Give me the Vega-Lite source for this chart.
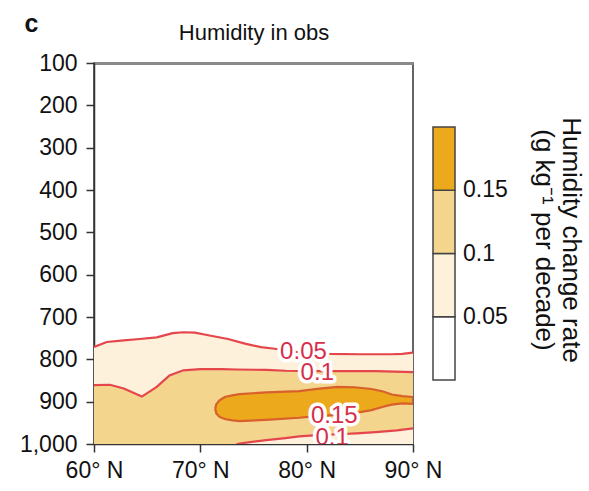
{
  "$schema": "https://vega.github.io/schema/vega-lite/v6.json",
  "width": 319,
  "height": 381,
  "padding": {"left": 19, "top": 12, "right": 5, "bottom": 5},
  "background": "white",
  "title": {
    "text": "c",
    "anchor": "start",
    "frame": "bounds",
    "fontSize": 25,
    "fontWeight": "bold",
    "color": "#111111",
    "offset": -16,
    "dx": 5
  },
  "datasets": {
    "cream": [
      {"lat": 60, "top": 771, "bottom": 1000, "level": 0.05},
      {"lat": 61.2, "top": 759, "bottom": 1000, "level": 0.05},
      {"lat": 62.8, "top": 755, "bottom": 1000, "level": 0.05},
      {"lat": 64.3, "top": 752, "bottom": 1000, "level": 0.05},
      {"lat": 65.9, "top": 748, "bottom": 1000, "level": 0.05},
      {"lat": 67.4, "top": 738, "bottom": 1000, "level": 0.05},
      {"lat": 68.4, "top": 736, "bottom": 1000, "level": 0.05},
      {"lat": 69.5, "top": 737, "bottom": 1000, "level": 0.05},
      {"lat": 70.5, "top": 742, "bottom": 1000, "level": 0.05},
      {"lat": 72.6, "top": 752, "bottom": 1000, "level": 0.05},
      {"lat": 74.2, "top": 763, "bottom": 1000, "level": 0.05},
      {"lat": 75.7, "top": 771, "bottom": 1000, "level": 0.05},
      {"lat": 77, "top": 775, "bottom": 1000, "level": 0.05},
      {"lat": 78.5, "top": 781, "bottom": 1000, "level": 0.05},
      {"lat": 80, "top": 785, "bottom": 1000, "level": 0.05},
      {"lat": 82, "top": 787, "bottom": 1000, "level": 0.05},
      {"lat": 85, "top": 788, "bottom": 1000, "level": 0.05},
      {"lat": 88, "top": 788, "bottom": 1000, "level": 0.05},
      {"lat": 89, "top": 787, "bottom": 1000, "level": 0.05},
      {"lat": 90, "top": 784, "bottom": 1000, "level": 0.05}
    ],
    "tan": [
      {"lat": 60, "top": 861, "bottom": 1000, "level": 0.1},
      {"lat": 61.5, "top": 860, "bottom": 1000, "level": 0.1},
      {"lat": 62.8, "top": 869, "bottom": 1000, "level": 0.1},
      {"lat": 64.5, "top": 888, "bottom": 1000, "level": 0.1},
      {"lat": 65.9, "top": 865, "bottom": 1000, "level": 0.1},
      {"lat": 67.1, "top": 838, "bottom": 1000, "level": 0.1},
      {"lat": 68.4, "top": 826, "bottom": 1000, "level": 0.1},
      {"lat": 70, "top": 823, "bottom": 1000, "level": 0.1},
      {"lat": 72, "top": 823, "bottom": 1000, "level": 0.1},
      {"lat": 73.4, "top": 824, "bottom": 1000, "level": 0.1},
      {"lat": 74.5, "top": 824, "bottom": 996, "level": 0.1},
      {"lat": 76.2, "top": 825, "bottom": 991, "level": 0.1},
      {"lat": 78, "top": 827, "bottom": 986, "level": 0.1},
      {"lat": 79.3, "top": 828, "bottom": 982, "level": 0.1},
      {"lat": 81, "top": 828, "bottom": 979, "level": 0.1},
      {"lat": 82.9, "top": 828, "bottom": 977, "level": 0.1},
      {"lat": 84.7, "top": 828, "bottom": 975, "level": 0.1},
      {"lat": 86.5, "top": 828, "bottom": 972, "level": 0.1},
      {"lat": 88.5, "top": 828, "bottom": 968, "level": 0.1},
      {"lat": 90, "top": 830, "bottom": 963, "level": 0.1}
    ],
    "orange": [
      {"lat": 71.4, "top": 916, "bottom": 918, "level": 0.15},
      {"lat": 71.5, "top": 906, "bottom": 928, "level": 0.15},
      {"lat": 71.8, "top": 897, "bottom": 936, "level": 0.15},
      {"lat": 72.3, "top": 889, "bottom": 941, "level": 0.15},
      {"lat": 73, "top": 885, "bottom": 944, "level": 0.15},
      {"lat": 73.7, "top": 882, "bottom": 946, "level": 0.15},
      {"lat": 76.2, "top": 878, "bottom": 943, "level": 0.15},
      {"lat": 79.3, "top": 875, "bottom": 938, "level": 0.15},
      {"lat": 81, "top": 870, "bottom": 934, "level": 0.15},
      {"lat": 82.9, "top": 865, "bottom": 931, "level": 0.15},
      {"lat": 84.5, "top": 866, "bottom": 927, "level": 0.15},
      {"lat": 86.1, "top": 870, "bottom": 920, "level": 0.15},
      {"lat": 87.2, "top": 876, "bottom": 912, "level": 0.15},
      {"lat": 88, "top": 883, "bottom": 907, "level": 0.15},
      {"lat": 89, "top": 887, "bottom": 904, "level": 0.15},
      {"lat": 90, "top": 889, "bottom": 905, "level": 0.15}
    ],
    "contours": [
      {"c": "c05", "i": 1, "lat": 60, "p": 771},
      {"c": "c05", "i": 2, "lat": 61.2, "p": 759},
      {"c": "c05", "i": 3, "lat": 62.8, "p": 755},
      {"c": "c05", "i": 4, "lat": 64.3, "p": 752},
      {"c": "c05", "i": 5, "lat": 65.9, "p": 748},
      {"c": "c05", "i": 6, "lat": 67.4, "p": 738},
      {"c": "c05", "i": 7, "lat": 68.4, "p": 736},
      {"c": "c05", "i": 8, "lat": 69.5, "p": 737},
      {"c": "c05", "i": 9, "lat": 70.5, "p": 742},
      {"c": "c05", "i": 10, "lat": 72.6, "p": 752},
      {"c": "c05", "i": 11, "lat": 74.2, "p": 763},
      {"c": "c05", "i": 12, "lat": 75.7, "p": 771},
      {"c": "c05", "i": 13, "lat": 77, "p": 775},
      {"c": "c05", "i": 14, "lat": 78.5, "p": 781},
      {"c": "c05", "i": 15, "lat": 80, "p": 785},
      {"c": "c05", "i": 16, "lat": 82, "p": 787},
      {"c": "c05", "i": 17, "lat": 85, "p": 788},
      {"c": "c05", "i": 18, "lat": 88, "p": 788},
      {"c": "c05", "i": 19, "lat": 89, "p": 787},
      {"c": "c05", "i": 20, "lat": 90, "p": 784},
      {"c": "c10u", "i": 1, "lat": 60, "p": 861},
      {"c": "c10u", "i": 2, "lat": 61.5, "p": 860},
      {"c": "c10u", "i": 3, "lat": 62.8, "p": 869},
      {"c": "c10u", "i": 4, "lat": 64.5, "p": 888},
      {"c": "c10u", "i": 5, "lat": 65.9, "p": 865},
      {"c": "c10u", "i": 6, "lat": 67.1, "p": 838},
      {"c": "c10u", "i": 7, "lat": 68.4, "p": 826},
      {"c": "c10u", "i": 8, "lat": 70, "p": 823},
      {"c": "c10u", "i": 9, "lat": 72, "p": 823},
      {"c": "c10u", "i": 10, "lat": 73.4, "p": 824},
      {"c": "c10u", "i": 11, "lat": 76.2, "p": 825},
      {"c": "c10u", "i": 12, "lat": 78, "p": 827},
      {"c": "c10u", "i": 13, "lat": 81, "p": 828},
      {"c": "c10u", "i": 14, "lat": 86.5, "p": 828},
      {"c": "c10u", "i": 15, "lat": 90, "p": 830},
      {"c": "c10l", "i": 1, "lat": 73.4, "p": 1000},
      {"c": "c10l", "i": 2, "lat": 74.5, "p": 996},
      {"c": "c10l", "i": 3, "lat": 76.2, "p": 991},
      {"c": "c10l", "i": 4, "lat": 78, "p": 986},
      {"c": "c10l", "i": 5, "lat": 79.3, "p": 982},
      {"c": "c10l", "i": 6, "lat": 81, "p": 979},
      {"c": "c10l", "i": 7, "lat": 82.9, "p": 977},
      {"c": "c10l", "i": 8, "lat": 84.7, "p": 975},
      {"c": "c10l", "i": 9, "lat": 86.5, "p": 972},
      {"c": "c10l", "i": 10, "lat": 88.5, "p": 968},
      {"c": "c10l", "i": 11, "lat": 90, "p": 963}
    ],
    "blob": [
      {"i": 1, "lat": 71.4, "p": 917},
      {"i": 2, "lat": 71.5, "p": 906},
      {"i": 3, "lat": 71.8, "p": 897},
      {"i": 4, "lat": 72.3, "p": 889},
      {"i": 5, "lat": 73, "p": 885},
      {"i": 6, "lat": 73.7, "p": 882},
      {"i": 7, "lat": 76.2, "p": 878},
      {"i": 8, "lat": 79.3, "p": 875},
      {"i": 9, "lat": 81, "p": 870},
      {"i": 10, "lat": 82.9, "p": 865},
      {"i": 11, "lat": 84.5, "p": 866},
      {"i": 12, "lat": 86.1, "p": 870},
      {"i": 13, "lat": 87.2, "p": 876},
      {"i": 14, "lat": 88, "p": 883},
      {"i": 15, "lat": 89, "p": 887},
      {"i": 16, "lat": 90, "p": 889},
      {"i": 17, "lat": 90, "p": 905},
      {"i": 18, "lat": 89, "p": 904},
      {"i": 19, "lat": 88, "p": 907},
      {"i": 20, "lat": 87.2, "p": 912},
      {"i": 21, "lat": 86.1, "p": 920},
      {"i": 22, "lat": 84.5, "p": 927},
      {"i": 23, "lat": 82.9, "p": 931},
      {"i": 24, "lat": 81, "p": 934},
      {"i": 25, "lat": 79.3, "p": 938},
      {"i": 26, "lat": 76.2, "p": 943},
      {"i": 27, "lat": 73.7, "p": 946},
      {"i": 28, "lat": 73, "p": 944},
      {"i": 29, "lat": 72.3, "p": 941},
      {"i": 30, "lat": 71.8, "p": 936},
      {"i": 31, "lat": 71.5, "p": 928},
      {"i": 32, "lat": 71.4, "p": 917}
    ],
    "labels": [
      {"lat": 79.7, "p": 782, "text": "0.05"},
      {"lat": 81.0, "p": 832, "text": "0.1"},
      {"lat": 82.6, "p": 934, "text": "0.15"},
      {"lat": 82.4, "p": 987, "text": "0.1"}
    ]
  },
  "layer": [
    {
      "data": {"name": "cream"},
      "mark": {"type": "area", "clip": true},
      "encoding": {
        "x": {
          "field": "lat", "type": "quantitative",
          "scale": {"domain": [60, 90], "nice": false, "zero": false},
          "axis": {
            "orient": "bottom", "title": null, "values": [60, 70, 80, 90],
            "labelExpr": "datum.value + '° N'", "labelPadding": 7,
            "labelFlush": false
          }
        },
        "y": {
          "field": "top", "type": "quantitative", "title": null,
          "scale": {"domain": [100, 1000], "reverse": true, "nice": false, "zero": false},
          "axis": {
            "values": [100, 200, 300, 400, 500, 600, 700, 800, 900, 1000],
            "labelExpr": "format(datum.value, ',')", "labelPadding": 9
          }
        },
        "y2": {"field": "bottom"},
        "color": {
          "field": "level", "type": "quantitative",
          "scale": {
            "type": "threshold",
            "domain": [0.05, 0.1, 0.15],
            "range": ["#ffffff", "#fdf1dc", "#f4d58d", "#eba91b"]
          },
          "legend": {
            "type": "gradient",
            "orient": "none",
            "legendX": 339,
            "legendY": 64,
            "direction": "vertical",
            "gradientLength": 253,
            "gradientThickness": 22,
            "gradientStrokeColor": "#444444",
            "gradientStrokeWidth": 1.5,
            "labelFontSize": 23,
            "labelColor": "#111111",
            "labelOffset": 8,
            "labelOverlap": false,
            "format": "~g",
            "title": ["Humidity change rate", "(g kg⁻¹ per decade)"],
            "titleOrient": "right",
            "titleAngle": 90,
            "titleAnchor": "middle",
            "titleFontSize": 26,
            "titleFontWeight": "normal",
            "titleColor": "#111111",
            "titleLineHeight": 27,
            "titleLimit": 400,
            "titlePadding": 50
          }
        }
      }
    },
    {
      "data": {"name": "tan"},
      "mark": {"type": "area", "clip": true},
      "encoding": {
        "x": {"field": "lat", "type": "quantitative", "axis": null},
        "y": {"field": "top", "type": "quantitative", "title": null},
        "y2": {"field": "bottom"},
        "color": {
          "field": "level", "type": "quantitative",
          "scale": {
            "type": "threshold",
            "domain": [0.05, 0.1, 0.15],
            "range": ["#ffffff", "#fdf1dc", "#f4d58d", "#eba91b"]
          }
        }
      }
    },
    {
      "data": {"name": "orange"},
      "mark": {"type": "area", "clip": true},
      "encoding": {
        "x": {"field": "lat", "type": "quantitative", "axis": null},
        "y": {"field": "top", "type": "quantitative", "title": null},
        "y2": {"field": "bottom"},
        "color": {
          "field": "level", "type": "quantitative",
          "scale": {
            "type": "threshold",
            "domain": [0.05, 0.1, 0.15],
            "range": ["#ffffff", "#fdf1dc", "#f4d58d", "#eba91b"]
          }
        }
      }
    },
    {
      "data": {"name": "contours"},
      "mark": {"type": "line", "clip": true, "color": "#e4464b", "strokeWidth": 2.2},
      "encoding": {
        "x": {
          "field": "lat", "type": "quantitative",
          "axis": {
            "orient": "top", "ticks": false, "labels": false,
            "domainColor": "#8a8a8a", "domainWidth": 3,
            "title": "Humidity in obs", "titleFontSize": 22,
            "titleFontWeight": "normal", "titleColor": "#111111",
            "titlePadding": 19
          }
        },
        "y": {"field": "p", "type": "quantitative", "title": null},
        "detail": {"field": "c"},
        "order": {"field": "i"}
      }
    },
    {
      "data": {"name": "blob"},
      "mark": {"type": "line", "clip": true, "color": "#d8602c", "strokeWidth": 2.2},
      "encoding": {
        "x": {"field": "lat", "type": "quantitative", "axis": null},
        "y": {"field": "p", "type": "quantitative", "title": null},
        "order": {"field": "i"}
      }
    },
    {
      "data": {"name": "labels"},
      "transform": [{"filter": "datum.text == '0.05'"}],
      "mark": {"type": "text", "clip": true, "fontSize": 24, "stroke": "white", "strokeWidth": 7, "strokeJoin": "round", "fill": "white"},
      "encoding": {
        "x": {"field": "lat", "type": "quantitative", "axis": null},
        "y": {"field": "p", "type": "quantitative", "title": null},
        "text": {"field": "text"}
      }
    },
    {
      "data": {"name": "labels"},
      "transform": [{"filter": "datum.text == '0.05'"}],
      "mark": {"type": "text", "clip": true, "fontSize": 24, "fill": "#d62f4b"},
      "encoding": {
        "x": {"field": "lat", "type": "quantitative", "axis": null},
        "y": {"field": "p", "type": "quantitative", "title": null},
        "text": {"field": "text"}
      }
    },
    {
      "data": {"name": "labels"},
      "transform": [{"filter": "datum.text != '0.05'"}],
      "mark": {"type": "text", "clip": true, "fontSize": 24, "stroke": "white", "strokeWidth": 7, "strokeJoin": "round", "fill": "white"},
      "encoding": {
        "x": {"field": "lat", "type": "quantitative", "axis": null},
        "y": {"field": "p", "type": "quantitative", "title": null},
        "text": {"field": "text"}
      }
    },
    {
      "data": {"name": "labels"},
      "transform": [{"filter": "datum.text != '0.05'"}],
      "mark": {"type": "text", "clip": true, "fontSize": 24, "fill": "#d62f4b"},
      "encoding": {
        "x": {"field": "lat", "type": "quantitative", "axis": null},
        "y": {"field": "p", "type": "quantitative", "title": null},
        "text": {"field": "text"}
      }
    }
  ],
  "resolve": {"axis": {"x": "independent"}},
  "config": {
    "font": "Liberation Sans",
    "view": {"stroke": "#333333", "strokeWidth": 1.5},
    "axis": {
      "grid": false,
      "labelFontSize": 23,
      "labelColor": "#111111",
      "tickColor": "#333333",
      "tickWidth": 1.5,
      "domainColor": "#333333",
      "domainWidth": 1.5,
      "tickSize": 8
    },
    "text": {"font": "Liberation Sans"}
  }
}
